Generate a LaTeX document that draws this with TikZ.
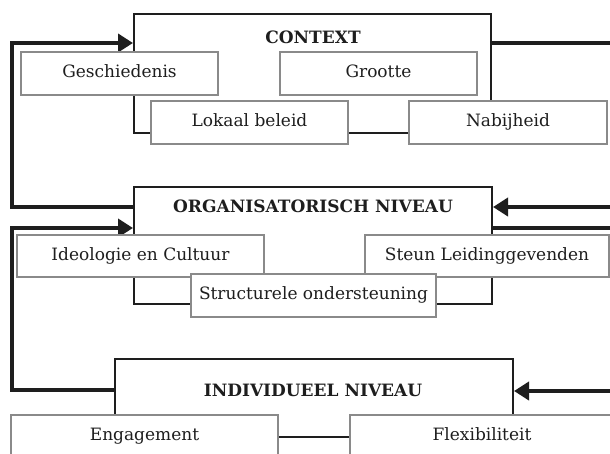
\documentclass[tikz,border=0pt]{standalone}
\usepackage{fontspec}
\setmainfont{DejaVu Serif}
\usetikzlibrary{arrows.meta,calc}
\definecolor{ink}{HTML}{1E1E1E}
\definecolor{boxgray}{HTML}{8A8A8A}
\tikzset{
  bigbox/.style={draw=ink, line width=2pt, fill=white, inner sep=0pt},
  smallbox/.style={draw=boxgray, line width=1.1pt, fill=white, inner sep=0pt, text=ink,
    text height=12.5pt, text depth=4pt,
    font=\fontsize{17}{19}\selectfont},
  title/.style={text=ink, font=\bfseries\fontsize{17}{19}\selectfont, inner sep=0pt},
  flow/.style={draw=ink, line width=4.3pt},
  flowarrow/.style={flow, -{Triangle[length=15pt,width=18pt]}},
  link/.style={draw=ink, line width=2pt}
}
\begin{document}
\begin{tikzpicture}[x=1pt,y=-1pt]
\useasboundingbox (0,0) rectangle (610,453);
\clip (0,0) rectangle (610,453);
\fill[white] (0,0) rectangle (610,453);

% big level boxes
\node[bigbox, minimum width=357pt, minimum height=119pt] (ctx) at (312.5,73.5) {};
\node[bigbox, minimum width=358pt, minimum height=117pt] (org) at (313,245.5) {};
\node[bigbox, minimum width=398pt, minimum height=111pt] (ind) at (314,414.5) {};

% titles
\node[title] (ctxt) at (313,37) {CONTEXT};
\node[title] (orgt) at (313,206) {ORGANISATORISCH NIVEAU};
\node[title] (indt) at (313,390) {INDIVIDUEEL NIVEAU};

% bend coordinates
\coordinate (l1) at (12,43);
\coordinate (l2) at (12,207);
\coordinate (l3) at (12,228);
\coordinate (l4) at (12,390);
\coordinate (r1) at (625,43);
\coordinate (r2) at (625,207);
\coordinate (r3) at (640,228);
\coordinate (r4) at (640,391);

% flows
\draw[flowarrow] (org.west |- l2) -- (l2) -- (l1) -- (ctx.west |- l1);
\draw[flowarrow] (ind.west |- l4) -- (l4) -- (l3) -- (org.west |- l3);
\draw[flowarrow] (ctx.east |- r1) -- (r1) -- (r2) -- (org.east |- r2);
\draw[flowarrow] (org.east |- r3) -- (r3) -- (r4) -- (ind.east |- r4);

% engagement - flexibiliteit link
\coordinate (e1) at (144.5,437);
\coordinate (f1) at (482,437);
\draw[link] (e1) -- (f1);

% small boxes
\node[smallbox, minimum width=197pt, minimum height=43pt] (gesch) at (119.5,73.5) {Geschiedenis};
\node[smallbox, minimum width=197pt, minimum height=43pt] (groot) at (378.5,73.5) {Grootte};
\node[smallbox, minimum width=197pt, minimum height=43pt] (lokaal) at (249.5,122.5) {Lokaal beleid};
\node[smallbox, minimum width=198pt, minimum height=43pt] (nabij) at (508,122.5) {Nabijheid};

\node[smallbox, minimum width=247pt, minimum height=42pt] (ideo) at (140.5,256) {Ideologie en Cultuur};
\node[smallbox, minimum width=244pt, minimum height=42pt] (steun) at (487,256) {Steun Leidinggevenden};
\node[smallbox, minimum width=245pt, minimum height=43pt] (struct) at (313.5,295.5) {Structurele ondersteuning};

\node[smallbox, minimum width=267pt, minimum height=43pt] (eng) at (144.5,436.5) {Engagement};
\node[smallbox, minimum width=264pt, minimum height=43pt] (flex) at (482,436.5) {Flexibiliteit};
\end{tikzpicture}
\end{document}
